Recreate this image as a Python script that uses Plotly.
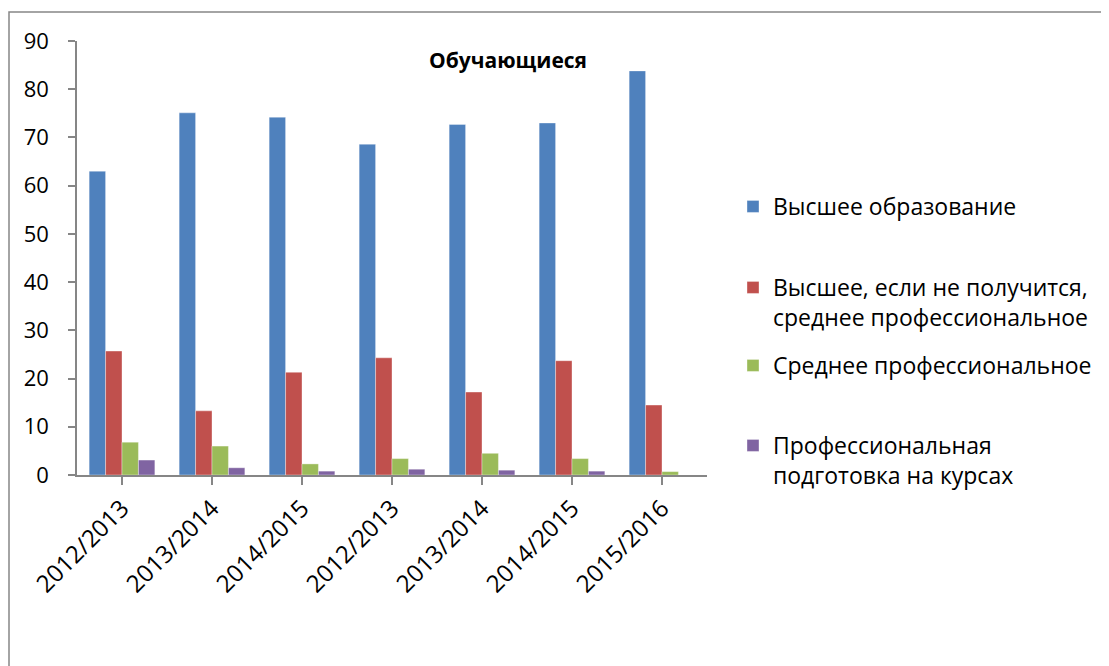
import plotly.graph_objects as go

categories = ["2012/2013", "2013/2014", "2014/2015", "2012/2013", "2013/2014", "2014/2015", "2015/2016"]
series_names = [
    "Высшее образование",
    "Высшее, если не получится,<br>среднее профессиональное",
    "Среднее профессиональное",
    "Профессиональная<br>подготовка на курсах",
]
higher = [63.0, 75.1, 74.2, 68.6, 72.7, 73.0, 83.8]
higher_or_secondary = [25.7, 13.3, 21.3, 24.3, 17.2, 23.7, 14.5]
secondary = [6.8, 6.0, 2.3, 3.4, 4.5, 3.4, 0.7]
courses = [3.1, 1.5, 0.8, 1.2, 1.0, 0.8, 0.0]
colors = ["#4F81BD", "#C0504D", "#9BBB59", "#8064A2"]
y_ticks = [0, 10, 20, 30, 40, 50, 60, 70, 80, 90]

# page has an 8px body margin; figure coordinates = page - 8
W, H = 1101, 658
L, R, T, B = 69, 699, 33, 467

def px_x(px):
    return (px - L) / (R - L)

def px_y(py):
    return (B - py) / (B - T)

xpos = list(range(len(categories)))
values = [higher, higher_or_secondary, secondary, courses]
legend_names = ["legend", "legend2", "legend3", "legend4"]
legend_tops = [177, 258, 336, 416]

fig = go.Figure()
for i, (name, vals) in enumerate(zip(series_names, values)):
    fig.add_trace(go.Bar(
        x=xpos, y=vals, name=name,
        marker=dict(color=colors[i], line=dict(color="rgba(255,255,255,0.6)", width=0.6)),
        legend=legend_names[i],
    ))

font_family = "Open Sans, Noto Sans, DejaVu Sans, sans-serif"

layout_legends = {}
for i, ln in enumerate(legend_names):
    layout_legends[ln] = dict(
        x=px_x(725), y=px_y(legend_tops[i]), xanchor="left", yanchor="top",
        font=dict(family=font_family, size=23, color="#000000"),
        bgcolor="rgba(0,0,0,0)", valign="top", itemclick=False,
        tracegroupgap=0,
    )

fig.update_layout(
    width=W, height=H,
    margin=dict(l=L, r=W - R, t=T, b=H - B, autoexpand=False),
    paper_bgcolor="white", plot_bgcolor="white",
    barmode="group", bargap=0.27, bargroupgap=0,
    showlegend=True,
    font=dict(family=font_family, color="#000000"),
    xaxis=dict(
        tickmode="array", tickvals=xpos, ticktext=categories,
        range=[-0.5, len(categories) - 0.5],
        tickangle=-45, tickson="boundaries", ticks="outside", ticklen=8,
        tickcolor="#868686", tickwidth=1.5,
        showline=True, linecolor="#868686", linewidth=1.5,
        showgrid=False, zeroline=False,
        tickfont=dict(family=font_family, size=24, color="#000000"),
    ),
    yaxis=dict(
        range=[0, 90], tickvals=y_ticks,
        ticks="outside", ticklen=7, tickcolor="#868686", tickwidth=1.5,
        showline=True, linecolor="#868686", linewidth=1.5,
        showgrid=False, zeroline=False,
        tickfont=dict(family=font_family, size=22, color="#000000"),
        ticklabelstandoff=15,
    ),
    annotations=[dict(
        text="<b>Обучающиеся</b>", xref="paper", yref="paper",
        x=px_x(500), y=px_y(52), xanchor="center", yanchor="middle",
        showarrow=False, font=dict(family=font_family, size=21, color="#000000"),
    )],
    shapes=[dict(
        type="rect", xref="paper", yref="paper",
        x0=px_x(1), y0=px_y(700), x1=px_x(1130), y1=px_y(4),
        line=dict(color="#868686", width=1.5), fillcolor="rgba(0,0,0,0)", layer="below",
    )],
    **layout_legends,
)

fig.write_html("out.html")
